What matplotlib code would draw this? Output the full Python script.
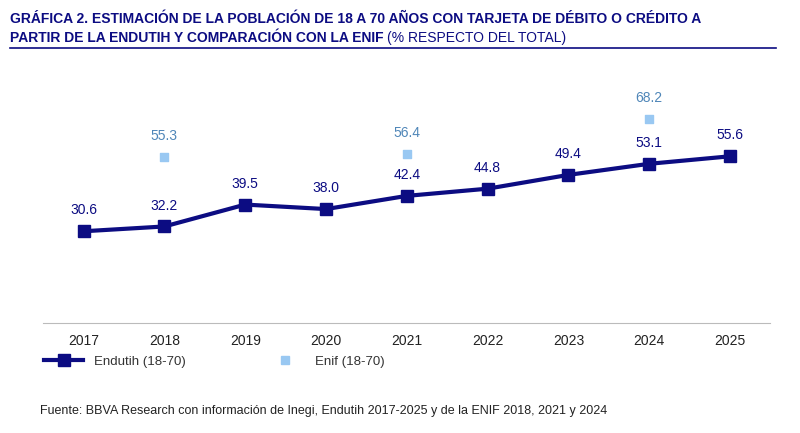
import matplotlib.pyplot as plt
from matplotlib.lines import Line2D

plt.rcParams['font.family'] = ['Liberation Sans', 'DejaVu Sans']

years = ['2017', '2018', '2019', '2020', '2021', '2022', '2023', '2024', '2025']
endutih = [30.6, 32.2, 39.5, 38.0, 42.4, 44.8, 49.4, 53.1, 55.6]
enif_idx = [1, 4, 7]
enif = [55.3, 56.4, 68.2]

navy = '#0c0c82'
light = '#99c8f2'
enif_txt = '#4f86b8'

fig = plt.figure(figsize=(8, 4.33), dpi=100)
ax = fig.add_axes([0.054, 0.254, 0.909, 0.554])

x = list(range(len(years)))
ax.plot(x, endutih, color=navy, lw=3, marker='s', ms=8, zorder=3)
ax.scatter(enif_idx, enif, marker='s', s=40, color=light, zorder=3)
for xi, v in zip(x, endutih):
    ax.annotate(f'{v:.1f}', (xi, v), xytext=(0, 10), textcoords='offset points',
                ha='center', va='bottom', color=navy, fontsize=10)
for xi, v in zip(enif_idx, enif):
    ax.annotate(f'{v:.1f}', (xi, v), xytext=(0, 10), textcoords='offset points',
                ha='center', va='bottom', color=enif_txt, fontsize=10)

ax.set_xlim(-0.5, 8.5)
ax.set_ylim(0, 80)
ax.set_xticks(x)
ax.set_xticklabels(years, fontsize=10, color='#222222')
ax.set_yticks([])
for s in ['top', 'right', 'left']:
    ax.spines[s].set_visible(False)
ax.spines['bottom'].set_color('#bbbbbb')
ax.tick_params(axis='x', length=0, pad=8)

handles = [Line2D([], [], color=navy, lw=3, marker='s', ms=8),
           Line2D([], [], color=light, lw=0, marker='s', ms=6)]
fig.legend(handles, ['Endutih (18-70)', 'Enif (18-70)'], loc='center left',
           bbox_to_anchor=(0.04, 0.165), ncol=2, frameon=False, fontsize=9.5,
           handlelength=3, columnspacing=6, labelcolor='#333333')

fig.text(0.012, 0.955, 'GRÁFICA 2. ESTIMACIÓN DE LA POBLACIÓN DE 18 A 70 AÑOS CON TARJETA DE DÉBITO O CRÉDITO A',
         fontsize=10, fontweight='bold', color=navy, va='center')
t2 = fig.text(0.012, 0.913, 'PARTIR DE LA ENDUTIH Y COMPARACIÓN CON LA ENIF', fontsize=10,
              fontweight='bold', color=navy, va='center')
fig.canvas.draw()
bb = t2.get_window_extent().transformed(fig.transFigure.inverted())
fig.text(bb.x1 + 0.005, 0.913, '(% RESPECTO DEL TOTAL)', fontsize=10, color=navy, va='center')
fig.add_artist(Line2D([0.012, 0.97], [0.89, 0.89], color=navy, lw=1.2))

fig.text(0.05, 0.05, 'Fuente: BBVA Research con información de Inegi, Endutih 2017-2025 y de la ENIF 2018, 2021 y 2024',
         fontsize=9, color='#222222', va='center')

fig.savefig('out.png', dpi=100)
